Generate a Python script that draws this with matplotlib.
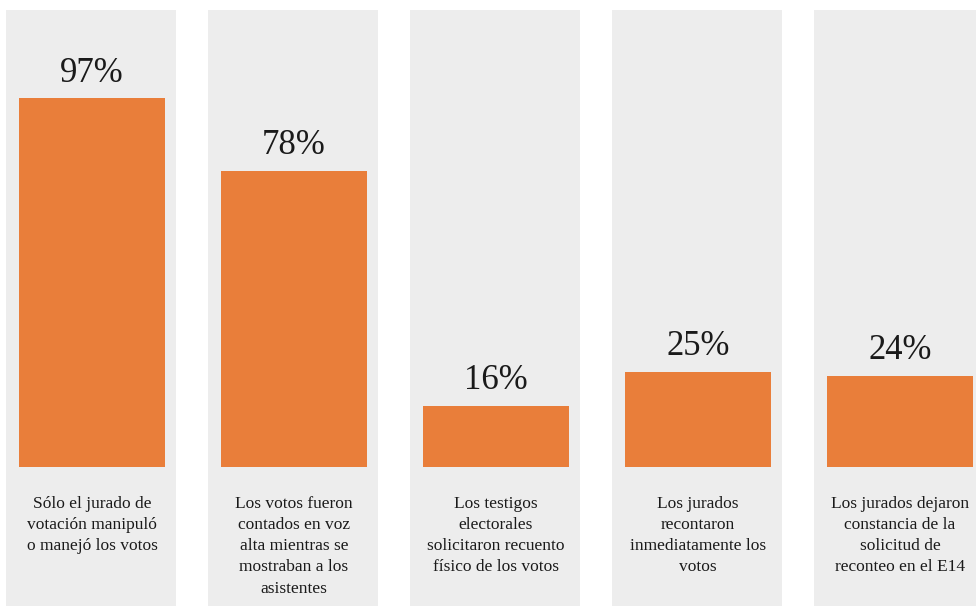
import matplotlib
matplotlib.use("Agg")
import matplotlib.pyplot as plt

categories = [
    "Sólo el jurado de\nvotación manipuló\no manejó los votos",
    "Los votos fueron\ncontados en voz\nalta mientras se\nmostraban a los\nasistentes",
    "Los testigos\nelectorales\nsolicitaron recuento\nfísico de los votos",
    "Los jurados\nrecontaron\ninmediatamente los\nvotos",
    "Los jurados dejaron\nconstancia de la\nsolicitud de\nreconteo en el E14",
]
values = [97, 78, 16, 25, 24]
value_labels = ["97%", "78%", "16%", "25%", "24%"]

orange = "#E97E3A"
panel_gray = "#EDEDED"
text_color = "#1a1a1a"
plt.rcParams['font.family'] = ['Liberation Serif', 'DejaVu Serif']

fig = plt.figure(figsize=(9.76, 6.06), dpi=100)
ax = fig.add_axes([0, 0, 1, 1])
ax.set_axis_off()

# pixel-based mapping: panel spacing 202 px, 3.8 px per percent, baseline at y=467 px
x_left = -91 / 202
x_right = (976 - 91) / 202
y_top = 467 / 3.8
y_bottom = -(606 - 467) / 3.8
ax.set_xlim(x_left, x_right)
ax.set_ylim(y_bottom, y_top)

xs = list(range(len(values)))
bar_xs = [x + 1 / 202 for x in xs]
panel_top = (467 - 10) / 3.8
ax.bar(xs, [panel_top - y_bottom] * len(xs), bottom=y_bottom, width=170 / 202,
       color=panel_gray, zorder=1)
ax.bar(bar_xs, values, width=146 / 202, color=orange, zorder=2)

for x, v, lab, cat in zip(bar_xs, values, value_labels, categories):
    ax.text(x, v + 4.4, lab, ha="center", va="baseline", fontsize=25,
            color=text_color, zorder=3)
    ax.text(x, (467 - 496) / 3.8, cat, ha="center", va="top", fontsize=12.5,
            color=text_color, linespacing=1.43, zorder=3)

fig.savefig("out.png", dpi=100)
